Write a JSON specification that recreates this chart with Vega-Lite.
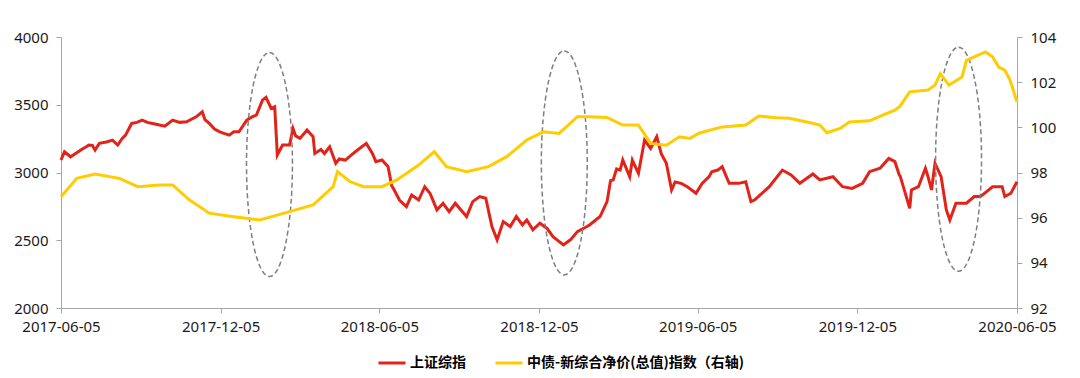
{
  "$schema": "https://vega.github.io/schema/vega-lite/v6.json",
  "width": 956,
  "height": 271,
  "autosize": {"type": "none"},
  "padding": {"left": 61, "top": 37, "right": 63, "bottom": 70},
  "background": "white",
  "config": {
    "view": {"stroke": null},
    "axis": {
      "labelFont": "Noto Sans",
      "labelFontSize": 15,
      "labelColor": "#1a1a1a",
      "domainColor": "#a6a6a6",
      "tickColor": "#a6a6a6",
      "tickSize": 5,
      "grid": false,
      "title": null
    }
  },
  "datasets": {
    "sse": [
      {"date": "2017-06-05", "v": 3092}, {"date": "2017-06-09", "v": 3153}, {"date": "2017-06-16", "v": 3116},
      {"date": "2017-06-23", "v": 3145}, {"date": "2017-06-29", "v": 3172}, {"date": "2017-07-04", "v": 3190},
      {"date": "2017-07-07", "v": 3203}, {"date": "2017-07-11", "v": 3200}, {"date": "2017-07-14", "v": 3165},
      {"date": "2017-07-19", "v": 3215}, {"date": "2017-07-27", "v": 3225}, {"date": "2017-08-03", "v": 3239},
      {"date": "2017-08-09", "v": 3203}, {"date": "2017-08-14", "v": 3250}, {"date": "2017-08-18", "v": 3276},
      {"date": "2017-08-25", "v": 3362}, {"date": "2017-08-31", "v": 3370}, {"date": "2017-09-06", "v": 3387},
      {"date": "2017-09-12", "v": 3370}, {"date": "2017-09-18", "v": 3362}, {"date": "2017-09-26", "v": 3350},
      {"date": "2017-10-02", "v": 3342}, {"date": "2017-10-11", "v": 3387}, {"date": "2017-10-19", "v": 3370},
      {"date": "2017-10-27", "v": 3374}, {"date": "2017-11-02", "v": 3395}, {"date": "2017-11-07", "v": 3411},
      {"date": "2017-11-14", "v": 3448}, {"date": "2017-11-17", "v": 3390}, {"date": "2017-11-22", "v": 3362},
      {"date": "2017-11-28", "v": 3320}, {"date": "2017-12-04", "v": 3300}, {"date": "2017-12-08", "v": 3290},
      {"date": "2017-12-15", "v": 3276}, {"date": "2017-12-20", "v": 3300}, {"date": "2017-12-26", "v": 3300},
      {"date": "2018-01-04", "v": 3387}, {"date": "2018-01-10", "v": 3410}, {"date": "2018-01-15", "v": 3423},
      {"date": "2018-01-22", "v": 3534}, {"date": "2018-01-26", "v": 3554}, {"date": "2018-02-01", "v": 3473},
      {"date": "2018-02-05", "v": 3485}, {"date": "2018-02-08", "v": 3129}, {"date": "2018-02-14", "v": 3203},
      {"date": "2018-02-22", "v": 3203}, {"date": "2018-02-26", "v": 3325}, {"date": "2018-03-01", "v": 3270},
      {"date": "2018-03-06", "v": 3252}, {"date": "2018-03-14", "v": 3313}, {"date": "2018-03-21", "v": 3264},
      {"date": "2018-03-23", "v": 3141}, {"date": "2018-03-30", "v": 3170}, {"date": "2018-04-03", "v": 3140},
      {"date": "2018-04-09", "v": 3190}, {"date": "2018-04-16", "v": 3068}, {"date": "2018-04-20", "v": 3100},
      {"date": "2018-04-27", "v": 3092}, {"date": "2018-05-04", "v": 3130}, {"date": "2018-05-11", "v": 3166},
      {"date": "2018-05-21", "v": 3215}, {"date": "2018-05-28", "v": 3141}, {"date": "2018-06-01", "v": 3080},
      {"date": "2018-06-08", "v": 3092}, {"date": "2018-06-15", "v": 3043}, {"date": "2018-06-19", "v": 2905},
      {"date": "2018-06-22", "v": 2871}, {"date": "2018-06-28", "v": 2797}, {"date": "2018-07-06", "v": 2748},
      {"date": "2018-07-12", "v": 2834}, {"date": "2018-07-20", "v": 2797}, {"date": "2018-07-27", "v": 2895},
      {"date": "2018-08-02", "v": 2847}, {"date": "2018-08-10", "v": 2724}, {"date": "2018-08-17", "v": 2773},
      {"date": "2018-08-24", "v": 2711}, {"date": "2018-08-31", "v": 2773}, {"date": "2018-09-07", "v": 2720},
      {"date": "2018-09-13", "v": 2675}, {"date": "2018-09-20", "v": 2785}, {"date": "2018-09-28", "v": 2822},
      {"date": "2018-10-05", "v": 2810}, {"date": "2018-10-12", "v": 2601}, {"date": "2018-10-18", "v": 2503},
      {"date": "2018-10-25", "v": 2638}, {"date": "2018-11-02", "v": 2601}, {"date": "2018-11-09", "v": 2675},
      {"date": "2018-11-16", "v": 2613}, {"date": "2018-11-21", "v": 2650}, {"date": "2018-11-28", "v": 2577},
      {"date": "2018-12-06", "v": 2626}, {"date": "2018-12-14", "v": 2589}, {"date": "2018-12-21", "v": 2527},
      {"date": "2019-01-02", "v": 2466}, {"date": "2019-01-10", "v": 2503}, {"date": "2019-01-18", "v": 2564},
      {"date": "2019-01-29", "v": 2601}, {"date": "2019-02-01", "v": 2613}, {"date": "2019-02-13", "v": 2675},
      {"date": "2019-02-21", "v": 2785}, {"date": "2019-02-25", "v": 2940}, {"date": "2019-02-28", "v": 2945},
      {"date": "2019-03-04", "v": 3027}, {"date": "2019-03-08", "v": 3018}, {"date": "2019-03-11", "v": 3092},
      {"date": "2019-03-19", "v": 2969}, {"date": "2019-03-22", "v": 3092}, {"date": "2019-03-29", "v": 2994},
      {"date": "2019-04-05", "v": 3239}, {"date": "2019-04-12", "v": 3178}, {"date": "2019-04-19", "v": 3264},
      {"date": "2019-04-24", "v": 3141}, {"date": "2019-04-30", "v": 3068}, {"date": "2019-05-06", "v": 2871},
      {"date": "2019-05-10", "v": 2930}, {"date": "2019-05-17", "v": 2920}, {"date": "2019-05-24", "v": 2895},
      {"date": "2019-06-03", "v": 2847}, {"date": "2019-06-10", "v": 2920}, {"date": "2019-06-18", "v": 2969},
      {"date": "2019-06-21", "v": 3006}, {"date": "2019-06-28", "v": 3018}, {"date": "2019-07-03", "v": 3043},
      {"date": "2019-07-11", "v": 2920}, {"date": "2019-07-22", "v": 2920}, {"date": "2019-07-30", "v": 2932},
      {"date": "2019-08-05", "v": 2785}, {"date": "2019-08-09", "v": 2797}, {"date": "2019-08-26", "v": 2895},
      {"date": "2019-09-10", "v": 3018}, {"date": "2019-09-20", "v": 2982}, {"date": "2019-09-30", "v": 2920},
      {"date": "2019-10-15", "v": 2989}, {"date": "2019-10-23", "v": 2945}, {"date": "2019-11-07", "v": 2969},
      {"date": "2019-11-18", "v": 2895}, {"date": "2019-11-29", "v": 2883}, {"date": "2019-12-11", "v": 2920},
      {"date": "2019-12-19", "v": 3006}, {"date": "2019-12-31", "v": 3031}, {"date": "2020-01-10", "v": 3104},
      {"date": "2020-01-17", "v": 3080}, {"date": "2020-01-22", "v": 2982}, {"date": "2020-01-23", "v": 2975},
      {"date": "2020-02-03", "v": 2736}, {"date": "2020-02-05", "v": 2871}, {"date": "2020-02-13", "v": 2895},
      {"date": "2020-02-21", "v": 3031}, {"date": "2020-02-24", "v": 2969}, {"date": "2020-02-28", "v": 2871},
      {"date": "2020-03-03", "v": 3068}, {"date": "2020-03-10", "v": 2969}, {"date": "2020-03-16", "v": 2724},
      {"date": "2020-03-20", "v": 2650}, {"date": "2020-03-27", "v": 2773}, {"date": "2020-04-08", "v": 2773},
      {"date": "2020-04-17", "v": 2822}, {"date": "2020-04-24", "v": 2822}, {"date": "2020-05-08", "v": 2895},
      {"date": "2020-05-19", "v": 2895}, {"date": "2020-05-22", "v": 2822}, {"date": "2020-05-29", "v": 2847},
      {"date": "2020-06-05", "v": 2932}
    ],
    "bond": [
      {"date": "2017-06-05", "v": 96.93}, {"date": "2017-06-23", "v": 97.74}, {"date": "2017-07-14", "v": 97.93},
      {"date": "2017-08-11", "v": 97.74}, {"date": "2017-09-01", "v": 97.37}, {"date": "2017-09-26", "v": 97.45},
      {"date": "2017-10-11", "v": 97.45}, {"date": "2017-10-30", "v": 96.79}, {"date": "2017-11-22", "v": 96.2},
      {"date": "2017-12-18", "v": 96.05}, {"date": "2018-01-19", "v": 95.9}, {"date": "2018-02-22", "v": 96.27},
      {"date": "2018-03-21", "v": 96.56}, {"date": "2018-04-13", "v": 97.37}, {"date": "2018-04-18", "v": 98.04},
      {"date": "2018-05-02", "v": 97.6}, {"date": "2018-05-18", "v": 97.37}, {"date": "2018-06-08", "v": 97.37},
      {"date": "2018-06-25", "v": 97.67}, {"date": "2018-07-20", "v": 98.33}, {"date": "2018-08-07", "v": 98.92},
      {"date": "2018-08-21", "v": 98.26}, {"date": "2018-09-13", "v": 98.04}, {"date": "2018-10-08", "v": 98.26},
      {"date": "2018-10-29", "v": 98.7}, {"date": "2018-11-21", "v": 99.44}, {"date": "2018-12-10", "v": 99.8},
      {"date": "2018-12-28", "v": 99.73}, {"date": "2019-01-18", "v": 100.47}, {"date": "2019-02-01", "v": 100.47},
      {"date": "2019-02-21", "v": 100.44}, {"date": "2019-03-11", "v": 100.1}, {"date": "2019-03-29", "v": 100.1},
      {"date": "2019-04-12", "v": 99.29}, {"date": "2019-04-30", "v": 99.21}, {"date": "2019-05-15", "v": 99.58},
      {"date": "2019-05-27", "v": 99.51}, {"date": "2019-06-07", "v": 99.75}, {"date": "2019-07-03", "v": 100.02},
      {"date": "2019-07-30", "v": 100.1}, {"date": "2019-08-14", "v": 100.5}, {"date": "2019-09-03", "v": 100.42},
      {"date": "2019-09-18", "v": 100.4}, {"date": "2019-10-08", "v": 100.24}, {"date": "2019-10-23", "v": 100.1},
      {"date": "2019-10-31", "v": 99.76}, {"date": "2019-11-15", "v": 99.95}, {"date": "2019-11-26", "v": 100.24},
      {"date": "2019-12-19", "v": 100.29}, {"date": "2020-01-03", "v": 100.54}, {"date": "2020-01-17", "v": 100.76},
      {"date": "2020-01-23", "v": 100.94}, {"date": "2020-02-03", "v": 101.57}, {"date": "2020-02-24", "v": 101.65},
      {"date": "2020-03-03", "v": 101.87}, {"date": "2020-03-09", "v": 102.38}, {"date": "2020-03-19", "v": 101.87},
      {"date": "2020-04-03", "v": 102.23}, {"date": "2020-04-08", "v": 102.97}, {"date": "2020-04-17", "v": 103.12},
      {"date": "2020-04-30", "v": 103.34}, {"date": "2020-05-08", "v": 103.12}, {"date": "2020-05-15", "v": 102.67},
      {"date": "2020-05-22", "v": 102.53}, {"date": "2020-05-28", "v": 102.09}, {"date": "2020-06-05", "v": 101.13}
    ],
    "marks": [
      {"date": "2018-01-30", "v": 3059},
      {"date": "2019-01-03", "v": 3071},
      {"date": "2020-03-30", "v": 3098}
    ]
  },
  "encoding": {
    "x": {
      "field": "date",
      "type": "temporal",
      "scale": {
        "type": "utc",
        "domain": [
          {"year": 2017, "month": 6, "date": 5, "utc": true},
          {"year": 2020, "month": 6, "date": 5, "utc": true}
        ]
      },
      "axis": {
        "format": "%Y-%m-%d",
        "labelAngle": 0,
        "labelPadding": 6,
        "values": [
          {"year": 2017, "month": 6, "date": 5, "utc": true},
          {"year": 2017, "month": 12, "date": 5, "utc": true},
          {"year": 2018, "month": 6, "date": 5, "utc": true},
          {"year": 2018, "month": 12, "date": 5, "utc": true},
          {"year": 2019, "month": 6, "date": 5, "utc": true},
          {"year": 2019, "month": 12, "date": 5, "utc": true},
          {"year": 2020, "month": 6, "date": 5, "utc": true}
        ],
        "labelFlush": false,
        "labelOverlap": false
      }
    }
  },
  "layer": [
    {
      "layer": [
        {
          "data": {"name": "sse"},
          "mark": {"type": "line", "strokeWidth": 3, "interpolate": "linear"},
          "encoding": {
            "y": {
              "field": "v",
              "type": "quantitative",
              "scale": {"domain": [2000, 4000], "nice": false, "zero": false},
              "axis": {"values": [2000, 2500, 3000, 3500, 4000], "format": "d", "orient": "left", "labelPadding": 8}
            },
            "color": {
              "datum": "上证综指",
              "type": "nominal",
              "scale": {
                "domain": ["上证综指", "中债-新综合净价(总值)指数（右轴)"],
                "range": ["#E2231A", "#FFCC00"]
              },
              "legend": {
                "orient": "none",
                "legendX": 316,
                "legendY": 311,
                "direction": "horizontal",
                "title": null,
                "padding": 0,
                "symbolType": "stroke",
                "symbolSize": 729,
                "symbolStrokeWidth": 3,
                "labelFont": "Noto Sans CJK SC",
                "labelFontSize": 14,
                "labelFontWeight": "bold",
                "labelColor": "#000000",
                "labelOffset": 3,
                "labelLimit": 400,
                "columnPadding": 23
              }
            }
          }
        },
        {
          "data": {"name": "marks"},
          "mark": {
            "type": "point",
            "shape": "M 0 -1 C 0.1132 -1 0.205 -0.5523 0.205 0 C 0.205 0.5523 0.1132 1 0 1 C -0.1132 1 -0.205 0.5523 -0.205 0 C -0.205 -0.5523 -0.1132 -1 0 -1 Z",
            "size": 50176,
            "filled": false,
            "opacity": 1,
            "stroke": "#7f7f7f",
            "strokeWidth": 1.5,
            "strokeDash": [5, 3]
          },
          "encoding": {
            "y": {"field": "v", "type": "quantitative"}
          }
        }
      ]
    },
    {
      "data": {"name": "bond"},
      "mark": {"type": "line", "strokeWidth": 3, "interpolate": "linear"},
      "encoding": {
        "y": {
          "field": "v",
          "type": "quantitative",
          "scale": {"domain": [92, 104], "nice": false, "zero": false},
          "axis": {"values": [92, 94, 96, 98, 100, 102, 104], "orient": "right", "labelPadding": 8}
        },
        "color": {"datum": "中债-新综合净价(总值)指数（右轴)", "type": "nominal"}
      }
    }
  ],
  "resolve": {"scale": {"y": "independent"}, "axis": {"y": "independent"}}
}
